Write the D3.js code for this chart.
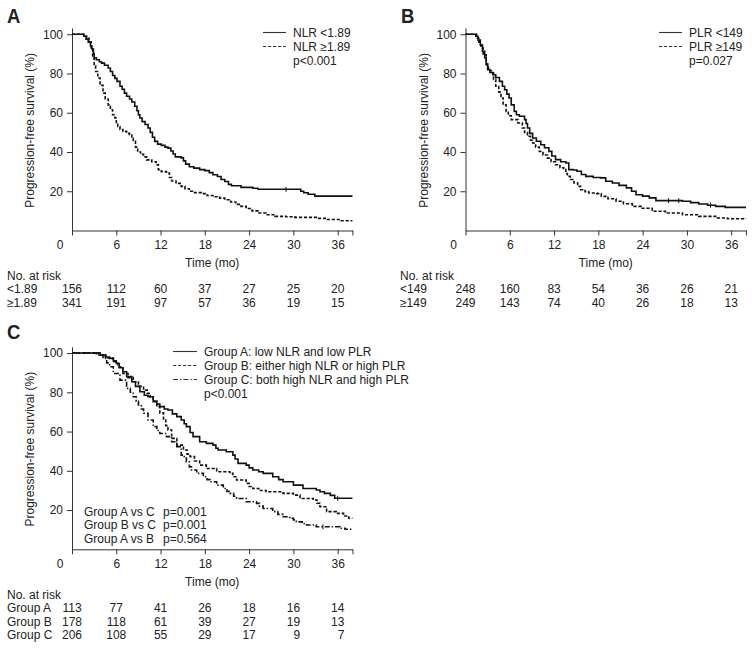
<!DOCTYPE html>
<html><head><meta charset="utf-8">
<script src="https://cdn.jsdelivr.net/npm/d3@7"></script>
<style>
html,body{margin:0;padding:0;background:#fff;}
svg text{font-family:"Liberation Sans",Arial,Helvetica,sans-serif;fill:#222;}
</style></head>
<body><svg id="chart" width="752" height="649"></svg>
<script>
// ---------------- DATA ----------------
const timeTicks = [0, 6, 12, 18, 24, 30, 36];
const survTicks = [20, 40, 60, 80, 100];

// Panel A: NLR
const nlrLow = [[0,100],[1.2,100],[1.6,99],[1.9,97.5],[2.2,96],[2.5,94],[2.7,92.5],[2.9,90],[3.0,88],[3.3,87],[3.7,86],[4.0,85.3],[4.4,84.2],[4.9,82.8],[5.2,81],[5.5,79],[5.8,77.5],[6.1,76],[6.5,73.5],[6.8,72],[7.1,70],[7.4,68.4],[7.8,67],[8.1,65.5],[8.5,63.3],[8.8,61],[9.0,59],[9.2,57.3],[9.5,55.5],[9.9,54],[10.3,52.2],[10.6,50],[10.9,47.5],[11.2,45.4],[11.6,44],[12.1,43.4],[12.6,42.5],[13.0,42],[13.4,40.5],[13.7,39],[14.0,37.5],[14.8,37],[15.1,35.5],[15.4,33.8],[15.9,32.5],[16.5,31.8],[17.3,31],[18.0,30.5],[18.6,29.5],[19.1,28.4],[19.7,27.5],[20.2,26],[20.7,25],[21.2,23.5],[21.6,22.8],[22.9,22],[24.5,21.5],[25.2,21],[30.6,21],[31.0,20],[31.4,19.2],[32.0,18.5],[32.9,17.5],[38,17.5]];
const nlrHigh = [[0,100],[1.2,100],[1.6,99],[2.0,98],[2.3,96],[2.6,93],[2.8,88],[3.0,84],[3.2,81],[3.5,77.7],[3.8,74],[4.2,70],[4.5,67],[4.9,64],[5.2,61.5],[5.5,59],[5.8,57.3],[6.0,55],[6.2,53],[6.5,51.5],[6.9,50.5],[7.4,49.5],[7.8,48.8],[8.1,47],[8.3,45.4],[8.6,42.5],[8.9,40],[9.3,38.8],[9.7,37.5],[10.1,36],[10.8,35],[11.4,33.5],[11.7,31],[12.1,30],[12.8,29.3],[13.2,27],[13.5,25.2],[14.1,24],[14.8,22.5],[15.3,21.3],[15.9,20],[16.6,19.3],[17.5,18.8],[18.3,17.8],[19.1,17.2],[20.0,16.5],[20.7,15.7],[21.5,14.5],[22.2,13.3],[22.9,12.3],[23.6,11.2],[24.4,10],[25.2,8.9],[26.3,8],[27.5,7.2],[29.0,7],[30.2,6.7],[33.3,6.2],[34.5,5.6],[36.5,5.0],[38,5.0]];
const nlrLowCensor = [29.0];
const nlrHighCensor = [];

// Panel B: PLR
const plrLow = [[0,100],[1.0,100],[1.4,99],[1.7,97],[2.0,94.5],[2.3,91.3],[2.6,88],[2.8,85],[3.0,82],[3.3,80.5],[3.7,79.4],[4.1,78],[4.6,76],[5.0,73.5],[5.3,71.7],[5.6,69.5],[5.9,67.5],[6.2,64],[6.6,60.7],[6.9,59],[7.3,58.2],[8.0,56.5],[8.2,54.5],[8.4,52.2],[8.7,49.5],[9.1,47.1],[9.6,45.5],[10.2,43.7],[10.7,42.2],[11.3,40.3],[11.7,38],[12.2,36.1],[12.9,35],[13.6,34.4],[14.0,31],[14.6,30.8],[15.1,30.2],[15.7,28.5],[16.3,27.6],[17.3,27],[18.3,26.8],[19.0,25.1],[19.9,24.2],[20.8,23],[21.8,21.7],[22.5,20],[23.1,18.2],[24.0,17.5],[24.9,16.6],[25.8,15.2],[29.4,14.9],[30.5,14.2],[31.6,13.5],[32.8,12.9],[33.9,12.3],[35.2,11.8],[38,11.8]];
const plrHigh = [[0,100],[1.0,100],[1.5,98],[1.8,96],[2.1,93],[2.4,89.5],[2.8,84.5],[3.1,81.5],[3.5,80.3],[3.8,77],[4.1,73.5],[4.5,70.5],[4.8,67.5],[5.1,64],[5.5,60.7],[5.8,58.5],[6.2,56.5],[7.1,54.8],[7.7,52.2],[8.0,50],[8.4,48],[8.8,46],[9.1,44.6],[9.5,42.5],[10.0,40.3],[10.5,38.5],[11.1,36.9],[11.6,35],[12.2,33.5],[12.8,32],[13.3,31],[13.6,29],[13.8,27.6],[14.2,26],[14.7,24.2],[15.2,22.5],[15.6,20.8],[16.2,19.8],[16.7,19.1],[17.8,18.8],[18.4,17.4],[19.3,16.2],[20.4,14.9],[21.4,13.6],[22.6,12.3],[23.8,11.3],[25.3,9.8],[27.1,8.9],[29.4,8],[31.6,7.2],[33.9,6.4],[35.5,6.0],[38,5.9]];
const plrLowCensor = [27.5, 28.9, 33.2];
const plrHighCensor = [];

// Panel C: combined groups
const groupA = [[0,100],[3.3,100],[3.8,99],[4.5,98],[5.1,97.3],[5.6,96],[6.0,94.7],[6.4,92.5],[6.9,90.5],[7.4,88],[8.1,85.4],[8.6,83],[9.2,80.3],[9.8,78.5],[10.3,77.7],[11.0,75.2],[11.5,74],[11.9,72.7],[12.5,71.5],[13.0,71],[13.6,69],[14.2,67.6],[14.8,65.9],[15.2,64],[15.5,62.5],[16.0,59.5],[16.4,57.4],[17.3,54.8],[18.2,54],[19.1,53.1],[19.5,51.5],[19.8,50.6],[20.9,49.7],[21.8,48],[22.1,46],[22.5,43.8],[23.6,42.9],[24.0,41.5],[24.5,40.4],[25.3,39.5],[25.9,38.7],[27.2,37],[28.0,35.5],[28.6,34.4],[30.0,32.7],[31.3,31],[33.1,30.2],[33.6,29.3],[34.2,28.5],[35.0,27.5],[35.6,26],[38,26]];
const groupB = [[0,100],[3.3,100],[3.8,99],[4.6,97.5],[5.6,95.6],[6.2,93],[6.9,89.6],[7.6,87.5],[8.3,85.4],[9.0,83],[9.7,81.1],[10.2,79.5],[10.6,77.7],[11.0,75.5],[11.5,72.7],[11.9,69.5],[12.4,65.9],[12.7,63],[13.0,60.8],[13.5,56.5],[14.2,53.1],[15.1,50.6],[15.6,48.5],[16.0,47.2],[16.6,45],[17.3,42.9],[18.2,41.2],[19.6,39.5],[21.4,38.7],[21.8,37],[22.3,35.3],[23.6,33.6],[24.0,32],[24.5,31],[25.3,30],[26.3,29.3],[28.6,28.5],[30.0,27.6],[30.9,25.9],[32.7,25.1],[33.2,23.5],[33.6,21.7],[34.5,19.2],[35.8,18.3],[36.8,17],[37.5,15.8],[38,15.8]];
const groupC = [[0,100],[2.8,100],[3.3,99],[4.2,97.3],[4.7,95],[5.1,93],[5.6,89.6],[6.5,86.2],[7.4,82],[7.9,80],[8.3,77.7],[8.7,75.5],[9.0,73.5],[9.4,71.5],[9.7,69.3],[10.3,65.9],[11.0,62.5],[11.5,60.5],[11.9,59],[12.8,57.4],[13.5,54.8],[14.2,52.3],[14.8,48],[15.2,46.5],[15.5,44.6],[15.9,42],[16.2,40.4],[16.9,38.7],[17.8,37],[18.3,35.5],[18.7,34.4],[19.6,32.7],[20.5,31],[21.0,29.5],[21.4,28.5],[21.9,27],[22.3,25.9],[23.6,24.2],[25.0,23.4],[25.4,22],[25.9,20.8],[27.2,19.2],[27.9,17.8],[28.6,16.6],[29.5,15.8],[30.0,15],[30.4,14],[31.2,13],[31.8,12.4],[33.1,11.5],[34.9,11.5],[36.3,10.7],[37.0,10.2],[38,10.2]];
const groupACensor = [36.0];
const groupBCensor = [];
const groupCCensor = [34.0];

// Numbers at risk
const riskA_labels = ["<1.89", "\u22651.89"];
const riskA_low = [156, 112, 60, 37, 27, 25, 20];
const riskA_high = [341, 191, 97, 57, 36, 19, 15];
const riskB_labels = ["<149", "\u2265149"];
const riskB_low = [248, 160, 83, 54, 36, 26, 21];
const riskB_high = [249, 143, 74, 40, 26, 18, 13];
const riskC_labels = ["Group A", "Group B", "Group C"];
const riskC_A = [113, 77, 41, 26, 18, 16, 14];
const riskC_B = [178, 118, 61, 39, 27, 19, 13];
const riskC_C = [206, 108, 55, 29, 17, 9, 7];

// Legends / annotations
const legendA = ["NLR <1.89", "NLR \u22651.89"];
const pA = "p<0.001";
const legendB = ["PLR <149", "PLR \u2265149"];
const pB = "p=0.027";
const legendC = ["Group A: low NLR and low PLR", "Group B: either high NLR or high PLR", "Group C: both high NLR and high PLR"];
const pC = "p<0.001";
const pairLabels = ["Group A vs C", "Group B vs C", "Group A vs B"];
const pairP = ["p=0.001", "p=0.001", "p=0.564"];

// ---------------- DRAWING ----------------
const svg = d3.select("#chart");
const INK = "#111";
const STYLES = { solid: null, dash: "3.2,1.8", dashdot: "5,2,1.4,2" };

function stepAt(data, t) {
  let v = data[0][1];
  for (const d of data) { if (d[0] <= t) v = d[1]; else break; }
  return v;
}

function panel(cfg) {
  const g = svg.append("g");
  const x = d3.scaleLinear().domain([0, 38]).range([cfg.x0, cfg.x0 + 38 * 7.38]);
  const y = d3.scaleLinear().domain([0, 103.2]).range([cfg.yZero, cfg.yZero - 103.2 * 1.9625]);

  // axes
  const xa = g.append("g").attr("transform", `translate(0,${cfg.yZero})`)
    .call(d3.axisBottom(x).tickValues(timeTicks.concat([38])).tickSize(5).tickSizeOuter(0).tickPadding(5)
      .tickFormat(d => (d === 0 || d === 38) ? "" : d));
  const ya = g.append("g").attr("transform", `translate(${cfg.x0},0)`)
    .call(d3.axisLeft(y).tickValues(survTicks).tickSize(5).tickSizeOuter(0).tickPadding(4));
  [xa, ya].forEach(a => {
    a.selectAll("path,line").attr("stroke", "#333").attr("stroke-width", 1);
    a.selectAll("text").attr("font-size", 12).attr("fill", "#222")
      .attr("font-family", '"Liberation Sans",Arial,sans-serif');
  });
  g.append("text").attr("x", cfg.x0 - 12).attr("y", cfg.yZero + 18.5)
    .attr("text-anchor", "middle").attr("font-size", 12).text("0");

  // axis titles
  g.append("text").attr("x", x(19)).attr("y", cfg.yZero + 36.5)
    .attr("text-anchor", "middle").attr("font-size", 12).text("Time (mo)");
  g.append("text")
    .attr("transform", `translate(${cfg.ylabX},${(y(0) + y(100)) / 2 - 2}) rotate(-90)`)
    .attr("text-anchor", "middle").attr("font-size", 12).text("Progression-free survival (%)");

  // panel letter
  g.append("text").attr("x", cfg.letterX).attr("y", cfg.letterY)
    .attr("font-size", 21).attr("font-weight", "bold").attr("fill", "#111")
    .attr("transform", `translate(${cfg.letterX * 0.12},0) scale(0.88,1)`)
    .text(cfg.letter);

  // curves
  const line = d3.line().x(d => x(d[0])).y(d => y(d[1])).curve(d3.curveStepAfter);
  cfg.series.forEach(s => {
    g.append("path").datum(s.data).attr("d", line).attr("fill", "none")
      .attr("stroke", INK).attr("stroke-width", 1.6)
      .attr("stroke-dasharray", STYLES[s.style]);
    s.censor.forEach(c => {
      const cy = y(stepAt(s.data, c));
      g.append("line").attr("x1", x(c)).attr("x2", x(c)).attr("y1", cy - 2.5).attr("y2", cy + 2.5)
        .attr("stroke", INK).attr("stroke-width", 1);
    });
  });

  // legend
  cfg.legend.forEach((lab, i) => {
    const ly = cfg.legY + i * 14;
    g.append("line").attr("x1", cfg.legX).attr("x2", cfg.legX + cfg.legLen).attr("y1", ly).attr("y2", ly)
      .attr("stroke", "#333").attr("stroke-width", 1.1).attr("stroke-dasharray", STYLES[cfg.series[i].style]);
    g.append("text").attr("x", cfg.legX + cfg.legLen + 7).attr("y", ly + 4.3).attr("font-size", 12).text(lab);
  });
  g.append("text").attr("x", cfg.legX + cfg.legLen + 7).attr("y", cfg.legY + (cfg.legend.length - 1) * 14 + 18.5)
    .attr("font-size", 12).text(cfg.p);

  // risk table
  g.append("text").attr("x", cfg.riskX).attr("y", cfg.riskY).attr("font-size", 12).text("No. at risk");
  cfg.risk.forEach((r, i) => {
    const ry = cfg.riskY + cfg.riskGap * (i + 1);
    g.append("text").attr("x", cfg.riskX).attr("y", ry).attr("font-size", 12).text(r.label);
    r.values.forEach((v, j) => {
      const small = v < 10;
      g.append("text").attr("x", x(timeTicks[j]) + (small ? 6.7 : 0)).attr("y", ry)
        .attr("text-anchor", small ? "end" : "middle").attr("font-size", 12).text(v);
    });
  });
  return { g, x, y };
}

panel({
  x0: 72, yZero: 230.5, ylabX: 34, letter: "A", letterX: 7, letterY: 23,
  series: [{ data: nlrLow, style: "solid", censor: nlrLowCensor }, { data: nlrHigh, style: "dash", censor: nlrHighCensor }],
  legend: legendA, p: pA, legX: 263, legY: 32.5, legLen: 23,
  riskX: 7, riskY: 279.5, riskGap: 13.6,
  risk: [{ label: riskA_labels[0], values: riskA_low }, { label: riskA_labels[1], values: riskA_high }]
});

panel({
  x0: 465.5, yZero: 230.5, ylabX: 427.5, letter: "B", letterX: 401, letterY: 23,
  series: [{ data: plrLow, style: "solid", censor: plrLowCensor }, { data: plrHigh, style: "dash", censor: plrHighCensor }],
  legend: legendB, p: pB, legX: 659, legY: 32.5, legLen: 23,
  riskX: 400, riskY: 279.5, riskGap: 13.6,
  risk: [{ label: riskB_labels[0], values: riskB_low }, { label: riskB_labels[1], values: riskB_high }]
});

const pc = panel({
  x0: 72, yZero: 549.3, ylabX: 34, letter: "C", letterX: 7, letterY: 339,
  series: [{ data: groupA, style: "solid", censor: groupACensor }, { data: groupB, style: "dash", censor: groupBCensor }, { data: groupC, style: "dashdot", censor: groupCCensor }],
  legend: legendC, p: pC, legX: 173, legY: 351.5, legLen: 24,
  riskX: 7, riskY: 599.3, riskGap: 13.1,
  risk: [{ label: riskC_labels[0], values: riskC_A }, { label: riskC_labels[1], values: riskC_B }, { label: riskC_labels[2], values: riskC_C }]
});

pairLabels.forEach((lab, i) => {
  const ty = 516 + i * 13.3;
  pc.g.append("text").attr("x", 84).attr("y", ty).attr("font-size", 12).text(lab);
  pc.g.append("text").attr("x", 163).attr("y", ty).attr("font-size", 12).text(pairP[i]);
});
</script></body></html>
